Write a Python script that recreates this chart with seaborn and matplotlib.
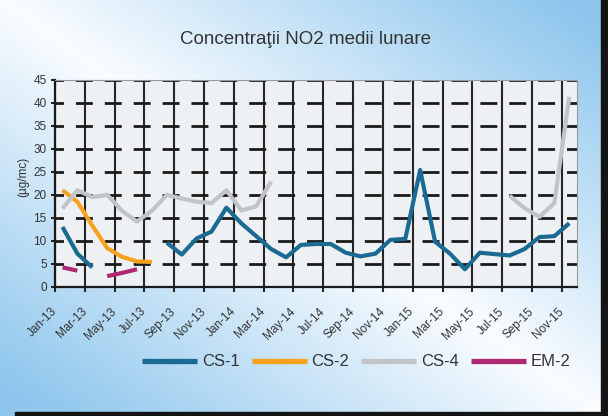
import numpy as np
import pandas as pd
import matplotlib
matplotlib.use('Agg')
import matplotlib.pyplot as plt
import matplotlib.transforms as mtransforms
from matplotlib.patches import Rectangle
import seaborn as sns

nan = np.nan

# Monthly categories, Jan-13 .. Nov-15
months = ['Jan-13', 'Feb-13', 'Mar-13', 'Apr-13', 'May-13', 'Jun-13', 'Jul-13',
          'Aug-13', 'Sep-13', 'Oct-13', 'Nov-13', 'Dec-13',
          'Jan-14', 'Feb-14', 'Mar-14', 'Apr-14', 'May-14', 'Jun-14', 'Jul-14',
          'Aug-14', 'Sep-14', 'Oct-14', 'Nov-14', 'Dec-14',
          'Jan-15', 'Feb-15', 'Mar-15', 'Apr-15', 'May-15', 'Jun-15', 'Jul-15',
          'Aug-15', 'Sep-15', 'Oct-15', 'Nov-15']

# monthly NO2 means (ug/mc); nan = no data
cs1 = [13.0, 7.2, 4.2, nan, nan, nan, nan,
       9.6, 7.0, 10.5, 12.0, 17.2,
       13.8, 11.0, 8.2, 6.4, 9.1, 9.3, 9.3,
       7.4, 6.6, 7.2, 10.2, 10.4,
       25.4, 9.8, 7.2, 3.8, 7.4, 7.1, 6.8,
       8.2, 10.8, 11.0, 13.8]
cs2 = [21.0, 18.5, 13.3, 8.4, 6.5, 5.5, 5.4,
       nan, nan, nan, nan, nan,
       nan, nan, nan, nan, nan, nan, nan,
       nan, nan, nan, nan, nan,
       nan, nan, nan, nan, nan, nan, nan,
       nan, nan, nan, nan]
cs4 = [17.0, 21.0, 19.5, 20.0, 16.5, 14.2, 16.5,
       20.0, 19.2, 18.5, 18.2, 21.0,
       16.6, 17.5, 22.9, nan, nan, nan, nan,
       nan, nan, nan, nan, nan,
       nan, nan, nan, nan, nan, nan, 19.8,
       17.1, 15.2, 18.2, 41.3]
em2 = [4.2, 3.5, nan, 2.3, 3.0, 3.8, nan,
       nan, nan, nan, nan, nan,
       nan, nan, nan, nan, nan, nan, nan,
       nan, nan, nan, nan, nan,
       nan, nan, nan, nan, nan, nan, nan,
       nan, nan, nan, nan]

series = {'CS-1': cs1, 'CS-2': cs2, 'CS-4': cs4, 'EM-2': em2}
colors = {'CS-1': '#1a6a93', 'CS-2': '#f7a11e', 'CS-4': '#c2c5c7', 'EM-2': '#b0286f'}

# long form, each unbroken run gets its own unit so gaps stay open
rows = []
for name, vals in series.items():
    seg = 0
    for i, v in enumerate(vals):
        if np.isnan(v):
            seg += 1
            continue
        rows.append({'month': i, 'value': v, 'station': name, 'seg': f'{name}-{seg}'})
df = pd.DataFrame(rows)

sns.set_theme(style='white')
plt.rcParams['font.family'] = ['Liberation Sans', 'DejaVu Sans']

fig = plt.figure(figsize=(6.08, 4.16), dpi=100)

# light blue diagonal gradient behind everything
bg = fig.add_axes([0, 0, 1, 1], zorder=-10)
u, v = np.meshgrid(np.linspace(0, 1, 300), np.linspace(0, 1, 200))
t = np.clip(np.abs(u - v) * 1.1, 0, 1)[..., None]
white = np.array([0.98, 0.99, 1.0])
blue = np.array([0.56, 0.78, 0.93])
bg.imshow(white + (blue - white) * t, aspect='auto', extent=(0, 1, 0, 1), origin='upper')
bg.axis('off')

ax = fig.add_axes([0.0905, 0.3108, 0.858, 0.4969])
ax.set_facecolor('#eef1f3')

sns.lineplot(data=df, x='month', y='value', hue='station', units='seg', estimator=None,
             hue_order=list(series), palette=colors, lw=3, ax=ax, zorder=3,
             solid_capstyle='butt')

ax.set_xlim(-0.5, 34.5)
ax.set_ylim(0, 45)
ax.set_yticks(range(0, 46, 5))
ax.set_xticks(np.arange(0, 35, 2) - 0.5)
ax.set_xticklabels(months[::2], rotation=45, ha='right', va='center',
                   rotation_mode='anchor')
offset = mtransforms.ScaledTranslation(2 / 100, 0, fig.dpi_scale_trans)
for lab in ax.get_xticklabels():
    lab.set_transform(lab.get_transform() + offset)
ax.set_xlabel('')
ax.set_ylabel('')

ax.grid(axis='x', color='#262626', lw=1.5, ls='-')
ax.grid(axis='y', color='#1a1a1a', lw=2, ls=(3.05, (6.1, 4.3)))
ax.tick_params(axis='x', bottom=True, length=3.5, width=1.5, color='#262626',
               pad=13, labelsize=8.5, labelcolor='#333333')
ax.tick_params(axis='y', left=True, length=3, width=1.5, color='#262626',
               pad=3, labelsize=8.5, labelcolor='#333333')
for side in ['left', 'bottom']:
    ax.spines[side].set_color('#1a1a1a')
    ax.spines[side].set_linewidth(1.6)
for side in ['top', 'right']:
    ax.spines[side].set_color('#9a9a9a')
    ax.spines[side].set_linewidth(0.8)

handles, labels = ax.get_legend_handles_labels()
ax.get_legend().remove()
leg = fig.legend(handles, labels, loc='center', bbox_to_anchor=(0.586, 0.13), ncol=4,
                 frameon=False, fontsize=12, handlelength=3.3, columnspacing=0.7,
                 handletextpad=0.3)
for h in leg.legend_handles:
    h.set_linewidth(3.8)
for txt in leg.get_texts():
    txt.set_color('#333333')

fig.text(0.502, 1 - 40 / 416, 'Concentraţii NO2 medii lunare', ha='center', va='center',
         fontsize=13.5, color='#333333')
fig.text(23 / 608, 1 - 177 / 416, '(µg/mc)', rotation=90, ha='center', va='center',
         fontsize=8.5, color='#333333')

# dark scan edges on the right and bottom
fig.add_artist(Rectangle((0.988, 0), 0.012, 1, transform=fig.transFigure,
                         color='#141414', zorder=5))
fig.add_artist(Rectangle((15 / 608, 0), 1, 4 / 416, transform=fig.transFigure,
                         color='#141414', zorder=5))

fig.savefig('out.png', dpi=100)
